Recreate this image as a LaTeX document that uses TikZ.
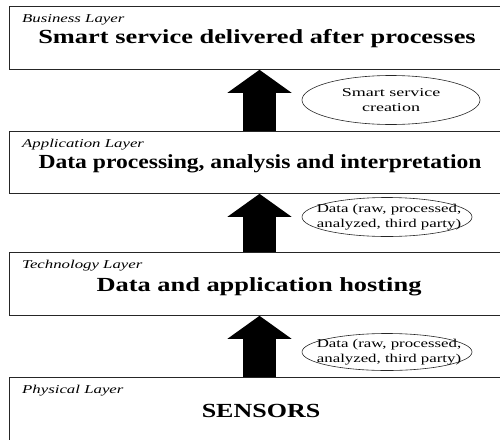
\documentclass[tikz,border=0pt]{standalone}
\usepackage{fontspec}
\setmainfont{Liberation Serif}
\usetikzlibrary{shapes.geometric,arrows.meta}
\begin{document}
\begin{tikzpicture}[x=1pt,y=-1pt,
  layerbox/.style={draw=black!85,line width=0.8pt},
  layerlabel/.style={anchor=base west,inner sep=0pt,font=\fontsize{12}{14}\selectfont\itshape},
  layertitle/.style={anchor=base,inner sep=0pt,font=\fontsize{20}{24}\selectfont\bfseries},
  flow/.style={line width=33pt,-{Triangle[width=63pt,length=23pt]}},
  bubble/.style={ellipse,draw=black!85,line width=0.6pt,inner sep=0pt},
  bubbletext/.style={inner sep=0pt,align=center,font=\fontsize{12}{15}\selectfont}
]
\useasboundingbox (0,0) rectangle (500,439);
\clip (0,0) rectangle (500,439);
% boxes
\node[layerbox,minimum width=496pt,minimum height=63pt,inner sep=0pt,anchor=north west] (b1) at (9,6) {};
\node[layerbox,minimum width=496pt,minimum height=62pt,inner sep=0pt,anchor=north west] (b2) at (9,131) {};
\node[layerbox,minimum width=496pt,minimum height=63pt,inner sep=0pt,anchor=north west] (b3) at (9,252) {};
\node[layerbox,minimum width=496pt,minimum height=70pt,inner sep=0pt,anchor=north west] (b4) at (9,377) {};
% labels
\node[layerlabel] (l1) at (22,22) {\scalebox{1.4}[1]{Business Layer}};
\node[layerlabel] (l2) at (22,147) {\scalebox{1.4}[1]{Application Layer}};
\node[layerlabel] (l3) at (22,268) {\scalebox{1.4}[1]{Technology Layer}};
\node[layerlabel] (l4) at (22,393) {\scalebox{1.4}[1]{Physical Layer}};
% titles
\node[layertitle] (t1) at (257,43) {\scalebox{1.32}[1]{Smart service delivered after processes}};
\node[layertitle] (t2) at (260,168) {\scalebox{1.18}[1]{Data processing, analysis and interpretation}};
\node[layertitle] (t3) at (259,291) {\scalebox{1.32}[1]{Data and application hosting}};
\node[layertitle] (t4) at (261,417) {\scalebox{1.3}[1]{SENSORS}};
% arrows
\coordinate (ax) at (259.5,0);
\draw[flow] (b2.north -| ax) -- (b1.south -| ax);
\draw[flow] (b3.north -| ax) -- (b2.south -| ax);
\draw[flow] (b4.north -| ax) -- (b3.south -| ax);
% ellipses
\node[bubble,minimum width=178pt,minimum height=49pt] (e1) at (391,100) {};
\node[bubbletext] (e1t) at (e1) {\scalebox{1.5}[1]{Smart service}\\\scalebox{1.5}[1]{creation}};
\node[bubble,minimum width=170pt,minimum height=39pt] (e2) at (387,217) {};
\node[bubbletext] (e2t) at (389,217) {\scalebox{1.4}[1]{Data (raw, processed,}\\\scalebox{1.4}[1]{analyzed, third party)}};
\node[bubble,minimum width=170pt,minimum height=37pt] (e3) at (387,352) {};
\node[bubbletext] (e3t) at (389,352) {\scalebox{1.4}[1]{Data (raw, processed,}\\\scalebox{1.4}[1]{analyzed, third party)}};
\end{tikzpicture}
\end{document}
